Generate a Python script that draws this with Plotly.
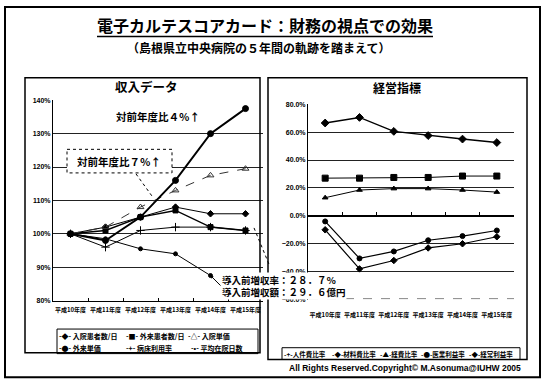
import plotly.graph_objects as go

W, H = 543, 390
def px(x): return x / W
def py(y): return 1 - y / H

years = ["平成10年度", "平成11年度", "平成12年度", "平成13年度", "平成14年度", "平成15年度"]

# 収入データ (平成10年度 = 100%)
inpatients = [100, 102, 105, 108, 106, 106]
outpatients = [100, 101, 105, 107, 102, 101]
inpatient_price = [100, 102, 108, 113, 117.5, 119.5]
outpatient_price = [100, 98, 105, 116, 130, 137.5]
bed_rate = [100, 96, 101, 102, 102, 101]
avg_stay = [100, 98.5, 95.5, 94, 87.5, None]

# 経営指標 (%)
personnel = [66.5, 70.5, 60.5, 57.5, 55, 52.5]
material = [27, 27, 27.5, 27.5, 28.5, 28.5]
expense = [13, 18.5, 19.5, 19.5, 18.5, 17]
ordinary_profit = [-4, -30.5, -25.5, -17.5, -14.5, -10.5]
operating_profit = [-10, -38, -32, -23, -20, -15]

JP = "Noto Sans CJK JP"
K = "black"

fig = go.Figure()

def add(x, y, name, symbol, size, width, dash="solid", xa="x", ya="y", color=K):
    fig.add_trace(go.Scatter(
        x=x, y=y, name=name, mode="lines+markers", xaxis=xa, yaxis=ya,
        line=dict(color=color, width=width, dash=dash),
        marker=dict(symbol=symbol, size=size, color=color, line=dict(color=color, width=1)),
        showlegend=False, connectgaps=False))

add(years, bed_rate, "病床利用率", "cross-thin-open", 6, 1)
add(years, avg_stay, "平均在院日数", "circle", 4, 1)
add(years, outpatients, "外来患者数/日", "square", 5, 1.5)
add(years, inpatients, "入院患者数/日", "diamond", 5, 1)
add(years, inpatient_price, "入院単価", "triangle-up-open", 6, 1, dash="dash", color="#333")
add(years, outpatient_price, "外来単価", "circle", 6, 2)

add(years, personnel, "人件費比率", "diamond", 6, 1.5, xa="x2", ya="y2")
add(years, material, "材料費比率", "square", 6, 1, xa="x2", ya="y2")
add(years, expense, "経費比率", "triangle-up", 5, 1, xa="x2", ya="y2")
add(years, ordinary_profit, "医業利益率", "circle", 5, 1.2, xa="x2", ya="y2")
add(years, operating_profit, "経常利益率", "diamond", 5, 1.2, xa="x2", ya="y2")

yd0, yd1 = py(301), py(102)
ymin2, ymax2 = -60, 80
zero_pos = yd0 + (0 - ymin2) / (ymax2 - ymin2) * (yd1 - yd0)

tickf = dict(family="Liberation Sans", size=7, color=K, weight="bold")
xtickf = dict(family=JP, size=6, color=K, weight="bold")

fig.update_layout(
    width=W, height=H, margin=dict(l=0, r=0, t=0, b=0),
    paper_bgcolor="white", plot_bgcolor="white",
    xaxis=dict(domain=[px(53), px(263)], anchor="y", type="category", range=[-0.5, 5.5],
               showline=True, linecolor=K, linewidth=1, ticks="inside", tickson="boundaries",
               ticklen=3, tickcolor=K, tickfont=xtickf, showgrid=False, tickangle=0,
               ticklabelstandoff=3),
    yaxis=dict(domain=[py(302), py(98)], range=[80, 140], dtick=10, ticksuffix="%",
               showgrid=True, gridcolor="#222", gridwidth=1, showline=True, linecolor=K,
               linewidth=1, zeroline=False, tickfont=tickf, ticks=""),
    xaxis2=dict(domain=[px(308), px(514)], anchor="free", position=zero_pos, type="category",
                range=[-0.5, 5.5], showline=True, linecolor=K, linewidth=1.5, ticks="inside",
                tickson="boundaries", ticklen=3, tickcolor=K, tickfont=xtickf, showgrid=False,
                tickangle=0, ticklabelstandoff=93),
    yaxis2=dict(domain=[yd0, yd1], anchor="x2", range=[ymin2, ymax2], dtick=20, tickformat=".1f",
                ticksuffix="%", showgrid=True, gridcolor="#222", gridwidth=1, showline=True,
                linecolor=K, linewidth=1, zeroline=False, tickfont=tickf, ticks=""),
)

shapes = []
def rect(x0, y0, x1, y1, w=1.5, dash="solid", fill=None, layer="above"):
    shapes.append(dict(type="rect", xref="paper", yref="paper", x0=px(x0), y0=py(y0), x1=px(x1), y1=py(y1),
                       line=dict(color=K, width=w, dash=dash), fillcolor=fill, layer=layer))
def line(x0, y0, x1, y1, w=1, dash="solid", color=K):
    shapes.append(dict(type="line", xref="paper", yref="paper", x0=px(x0), y0=py(y0), x1=px(x1), y1=py(y1),
                       line=dict(color=color, width=w, dash=dash)))

rect(5, 3, 540, 380, w=2)
rect(25, 75, 260, 355)
rect(268, 75, 527, 362)
line(97, 33, 433, 33, w=1.5)
rect(67, 148, 172, 172, w=1, dash="dot", fill="white")
line(136, 173, 153, 197, w=1, dash="dot")
line(254, 228, 269, 265, w=1, dash="dot")
rect(57, 331, 258, 356, w=1)
rect(282, 350, 520, 362, w=1)
line(309, 300, 514, 300, w=1, dash="dash", color="#888")
fig.update_layout(shapes=shapes)

ann = []
def text(x, y, s, size, xanchor="center", family=JP, bold=True, bg=None):
    ann.append(dict(xref="paper", yref="paper", x=px(x), y=py(y), text=s, showarrow=False,
                    xanchor=xanchor, yanchor="middle",
                    font=dict(family=family, size=size, color=K, weight="bold" if bold else "normal"),
                    bgcolor=bg, borderpad=0))

text(265, 21, "電子カルテスコアカード：財務の視点での効果", 16)
text(258, 44, "（島根県立中央病院の５年間の軌跡を踏まえて）", 12)
text(146, 84, "収入データ", 12.5)
text(397, 85, "経営指標", 12)
text(158, 115, "対前年度比４％↑", 10.5)
text(119, 160, "対前年度比７％↑", 10.5)
ann.append(dict(xref="x", yref="y", x=years[4], y=avg_stay[4],
                text="導入前増収率：２８．７％<br>導入前増収額：２９．６億円", align="left",
                showarrow=True, arrowhead=2, arrowsize=0.6, arrowwidth=1, arrowcolor=K,
                ax=10, ay=10, xanchor="left", yanchor="middle", bgcolor="white", borderpad=0,
                font=dict(family=JP, size=9.5, color=K, weight="bold")))
text(405, 371, "All Rights Reserved.Copyright© M.Asonuma@IUHW 2005", 8.5, family="Liberation Sans")

# legend rows (left panel)
leg_left = [
    (58, 338, "-◆- 入院患者数/日"), (125, 338, "-■- 外来患者数/日"), (187, 338, "-△- 入院単価"),
    (58, 350, "-●- 外来単価"), (125, 350, "-+- 病床利用率"), (190, 350, "-•- 平均在院日数"),
]
for x, y, s in leg_left:
    text(x, y, s, 7, xanchor="left")
leg_right = [(283, "-+-人件費比率"), (331, "-◆-材料費比率"), (379, "-▲-経費比率"),
             (420, "-●-医業利益率"), (468, "-◆-経常利益率")]
for x, s in leg_right:
    text(x, 356, s, 6.5, xanchor="left")

fig.update_layout(annotations=ann)
fig.write_html("out.html")
